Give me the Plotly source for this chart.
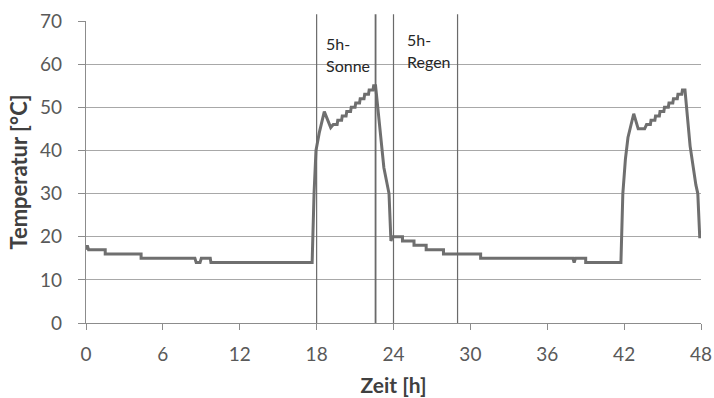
import plotly.graph_objects as go

# Measured temperature curve (time in hours, temperature in °C)
time_h = [0, 0.1, 0.2, 1.5, 1.5, 4.3, 4.3, 8.5, 8.6, 8.9, 9.0, 9.7, 9.75, 17.65,
          17.8, 17.95, 18.2, 18.6, 19.1, 19.3, 19.6, 19.65, 19.95, 20.0, 20.3, 20.35,
          20.65, 20.7, 21.0, 21.05, 21.35, 21.4, 21.7, 21.75, 22.05, 22.1, 22.4, 22.45,
          22.6, 23.25, 23.65, 23.8, 23.9, 24.7, 24.7, 25.6, 25.6, 26.55, 26.55, 27.9,
          27.9, 30.8, 30.8, 38.0, 38.1, 38.2, 39.0, 39.0, 41.75, 41.9, 42.1, 42.3,
          42.75, 43.1, 43.6, 43.75, 44.05, 44.1, 44.4, 44.45, 44.75, 44.8, 45.1, 45.15,
          45.45, 45.5, 45.8, 45.85, 46.15, 46.2, 46.5, 46.55, 46.75, 47.15, 47.6, 47.75,
          47.9, 48.0]
temp_c = [17, 18, 17, 17, 16, 16, 15, 15, 14, 14, 15, 15, 14, 14,
          30, 40, 44, 49, 45.3, 46, 46, 47, 47, 48, 48, 49,
          49, 50, 50, 51, 51, 52, 52, 53, 53, 54, 54, 55,
          55, 36, 30, 19, 20, 20, 19, 19, 18, 18, 17, 17,
          16, 16, 15, 15, 14, 15, 15, 14, 14, 30, 38, 43,
          48.5, 45, 45, 46, 46, 47, 47, 48, 48, 49, 49, 50,
          50, 51, 51, 52, 52, 53, 53, 54, 54, 41, 32, 30,
          20, 20]

marker_hours = [18, 22.6, 24, 29]
marker_widths = [1.2, 1.8, 1.2, 1.2]
x_ticks = [0, 6, 12, 18, 24, 30, 36, 42, 48]
y_ticks = [0, 10, 20, 30, 40, 50, 60, 70]
# (first line, second line, phase start hour, label y of line 1, label y of line 2)
phase_labels = [("5h-", "Sonne", 18, 64.9, 59.6), ("5h-", "Regen", 24, 65.7, 60.5)]
label_shift = [7, 11]

FONT = "Lato"
fig = go.Figure()
fig.add_trace(go.Scatter(x=time_h, y=temp_c, mode="lines",
                         line=dict(color="#6f6f6f", width=3),
                         showlegend=False, hoverinfo="skip"))

for h, w in zip(marker_hours, marker_widths):
    fig.add_shape(type="line", xref="x", yref="paper", x0=h, x1=h, y0=0, y1=1.022,
                  line=dict(color="#6a6a6a", width=w), layer="above")

for (l1, l2, h, y1, y2), xs in zip(phase_labels, label_shift):
    fig.add_annotation(x=h, y=y1, xref="x", yref="y", text=l1, showarrow=False,
                       xanchor="left", yanchor="middle", xshift=xs,
                       font=dict(family=FONT, size=16, color="#262626"))
    fig.add_annotation(x=h, y=y2, xref="x", yref="y", text=l2, showarrow=False,
                       xanchor="left", yanchor="middle", xshift=xs,
                       font=dict(family=FONT, size=16, color="#262626"))

fig.update_layout(
    width=714, height=398,
    margin=dict(l=86, r=13, t=21, b=75, autoexpand=False),
    paper_bgcolor="white", plot_bgcolor="white",
    font=dict(family=FONT, size=18, color="#595959"),
)
fig.update_xaxes(range=[0, 48], tickvals=x_ticks, ticktext=[str(v) for v in x_ticks],
                 automargin=False,
                 showgrid=False, zeroline=False, showline=True, linecolor="#8c8c8c",
                 linewidth=1.2, ticks="outside", ticklen=6, tickcolor="#8c8c8c",
                 ticklabelstandoff=8,
                 tickfont=dict(family=FONT, size=19, color="#595959"),
                 title=dict(text="<b>Zeit [h]</b>", standoff=14,
                            font=dict(family=FONT, size=21, color="#404040")))
fig.update_yaxes(range=[0, 70], tickvals=y_ticks, ticktext=[str(v) for v in y_ticks],
                 automargin=False,
                 showgrid=True, gridcolor="#a8a8a8", gridwidth=1, zeroline=False,
                 showline=True, linecolor="#8c8c8c", linewidth=1.2,
                 ticks="outside", ticklen=7, tickcolor="#8c8c8c",
                 ticklabelstandoff=12,
                 tickfont=dict(family=FONT, size=19, color="#595959"),
                 title=dict(text="<b>Temperatur [°C]</b>", standoff=6,
                            font=dict(family=FONT, size=22, color="#404040")))

fig.write_html("out.html")
